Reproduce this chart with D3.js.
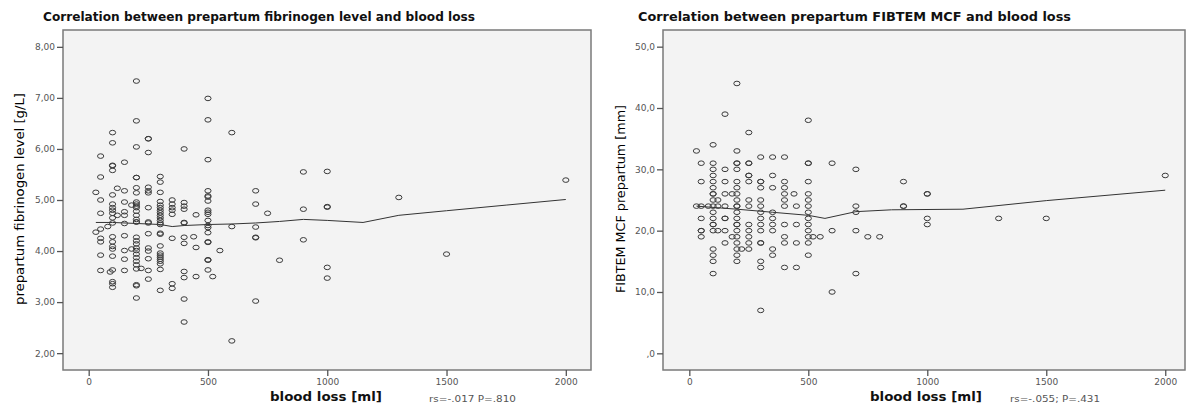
<!DOCTYPE html>
<html>
<head>
<meta charset="utf-8">
<script src="https://cdn.jsdelivr.net/npm/d3@7"></script>
<style>
  body { margin: 0; background: #fff; }
  svg { display: block; }
  .tick text { font-family: "DejaVu Sans", sans-serif; font-size: 9px; fill: #555; }
</style>
</head>
<body>
<div id="chart"></div>
<script>

// left panel : blood loss columns and fibrinogen values
var fibLoss = [30, 50, 80, 90, 100, 120, 150, 180, 200, 220, 250, 300, 350, 400, 440, 450, 500, 520, 550, 600, 700, 750, 800, 900, 1000, 1300, 1500, 2000];
var fibValues = [
  [5.15, 4.37],
  [5.86, 5.45, 5.0, 4.74, 4.43, 4.25, 4.18, 3.92, 3.62],
  [4.48],
  [3.59],
  [6.32, 6.12, 5.68, 5.67, 5.58, 5.10, 4.92, 4.85, 4.80, 4.74, 4.65, 4.55, 4.28, 4.18, 4.09, 4.04, 3.90, 3.63, 3.40, 3.36, 3.29],
  [5.23, 4.70],
  [5.74, 5.18, 4.96, 4.77, 4.70, 4.54, 4.30, 4.01, 3.84, 3.62],
  [4.90, 4.04],
  [7.33, 6.55, 6.04, 5.44, 5.44, 5.24, 5.14, 4.96, 4.92, 4.88, 4.85, 4.78, 4.70, 4.62, 4.57, 4.57, 4.27, 4.20, 4.14, 4.06, 4.01, 3.94, 3.87, 3.80, 3.73, 3.65, 3.34, 3.32, 3.08],
  [3.66],
  [6.20, 6.20, 5.93, 5.25, 5.18, 5.14, 4.85, 4.57, 4.55, 4.34, 4.06, 4.00, 3.85, 3.62, 3.45],
  [5.46, 5.35, 5.15, 4.97, 4.90, 4.85, 4.80, 4.75, 4.70, 4.65, 4.60, 4.55, 4.52, 4.35, 4.33, 4.10, 3.96, 3.92, 3.88, 3.84, 3.80, 3.75, 3.64, 3.23],
  [5.0, 4.92, 4.85, 4.80, 4.72, 4.25, 3.36, 3.27],
  [6.0, 4.95, 4.88, 4.82, 4.56, 4.55, 4.27, 4.15, 3.60, 3.48, 3.06, 2.61],
  [4.28],
  [4.71, 4.07, 3.50],
  [6.99, 6.57, 5.79, 5.18, 5.08, 5.06, 4.98, 4.80, 4.76, 4.72, 4.60, 4.50, 4.46, 4.36, 4.18, 4.17, 3.83, 3.82, 3.63],
  [3.50],
  [4.01],
  [6.32, 4.48, 2.24],
  [5.18, 4.92, 4.47, 4.27, 4.26, 3.02],
  [4.74],
  [3.82],
  [5.55, 4.82, 4.22],
  [5.56, 4.87, 4.86, 3.68, 3.47],
  [5.05],
  [3.94],
  [5.39]
];
var fibLineX = [30, 100, 200, 300, 350, 400, 500, 600, 700, 800, 900, 1000, 1150, 1300, 1500, 1750, 2000];
var fibLineY = [4.56, 4.56, 4.54, 4.52, 4.48, 4.50, 4.52, 4.53, 4.55, 4.58, 4.62, 4.60, 4.56, 4.70, 4.79, 4.90, 5.01];
var fibTicks = [2, 3, 4, 5, 6, 7, 8];

// right panel : FIBTEM MCF
var mcfLoss = [30, 50, 80, 100, 120, 150, 180, 200, 220, 250, 300, 350, 400, 440, 450, 500, 520, 550, 600, 700, 750, 800, 900, 1000, 1300, 1500, 2000];
var mcfValues = [
  [33, 24],
  [31, 28, 24, 22, 20, 20, 19],
  [24],
  [34, 31, 30, 29, 28, 27, 26, 26, 25, 24, 23, 22, 21, 21, 20, 17, 16, 15, 13],
  [25, 24, 20],
  [39, 30, 28, 26, 24, 22, 22, 20, 18],
  [26, 19],
  [44, 33, 31, 31, 30, 28, 27, 26, 25, 24, 24, 23, 22, 21, 21, 20, 19, 18, 17, 16, 15],
  [17],
  [36, 31, 31, 29, 29, 28, 25, 24, 21, 20, 19, 18, 17],
  [32, 28, 28, 27, 25, 24, 23, 22, 21, 20, 18, 18, 15, 14, 7],
  [32, 29, 27, 23, 22, 21, 20, 17, 16],
  [32, 28, 27, 26, 25, 24, 21, 19, 18, 14],
  [26],
  [24, 21, 18, 14],
  [38, 31, 31, 28, 26, 25, 24, 23, 22, 21, 20, 19, 18, 16],
  [19],
  [19],
  [31, 20, 10],
  [30, 24, 23, 20, 13],
  [19],
  [19],
  [28, 24, 24],
  [26, 26, 22, 21],
  [22],
  [22],
  [29]
];
var mcfLineX = [30, 200, 350, 500, 570, 700, 850, 1150, 1500, 2000];
var mcfLineY = [24.0, 23.5, 23.0, 22.5, 22.0, 23.1, 23.4, 23.5, 24.9, 26.6];
var mcfTicks = [0, 10, 20, 30, 40, 50];

var xTicks = [0, 500, 1000, 1500, 2000];

var svg = d3.select("#chart").append("svg")
    .attr("width", 1187)
    .attr("height", 405);

function panel(o) {
  var x = d3.scaleLinear().domain(o.xDomain).range([o.left, o.right]);
  var y = d3.scaleLinear().domain(o.yDomain).range([370, 30]);

  svg.append("rect")
      .attr("x", o.left)
      .attr("y", 30)
      .attr("width", o.right - o.left)
      .attr("height", 340)
      .attr("fill", "#f3f3f3")
      .attr("stroke", "#7a7a7a")
      .attr("stroke-width", 1.5);

  var yAxis = svg.append("g")
      .attr("transform", "translate(" + o.left + ",0)")
      .call(d3.axisLeft(y).tickValues(o.yTicks).tickSize(6).tickPadding(2).tickFormat(o.fmt));
  var xAxis = svg.append("g")
      .attr("transform", "translate(0,370)")
      .call(d3.axisBottom(x).tickValues(xTicks).tickSize(6).tickPadding(3).tickFormat(d3.format("d")));
  [yAxis, xAxis].forEach(function (a) {
    a.select(".domain").remove();
    a.selectAll(".tick line").attr("stroke", "#555").attr("stroke-width", 1.3);
  });

  var pts = [];
  o.loss.forEach(function (l, i) {
    o.values[i].forEach(function (v) { pts.push([l, v]); });
  });

  var line = d3.line()
      .x(function (d) { return x(d[0]); })
      .y(function (d) { return y(d[1]); });
  svg.append("path")
      .datum(d3.zip(o.lineX, o.lineY))
      .attr("d", line)
      .attr("fill", "none")
      .attr("stroke", "#333")
      .attr("stroke-width", 1);

  svg.append("g").selectAll("ellipse")
      .data(pts)
      .enter().append("ellipse")
      .attr("cx", function (d) { return x(d[0]); })
      .attr("cy", function (d) { return y(d[1]); })
      .attr("rx", 3.1)
      .attr("ry", 2.3)
      .attr("fill", "none")
      .attr("stroke", "#3a3a3a")
      .attr("stroke-width", 1);

  svg.append("text")
      .attr("x", o.titleX)
      .attr("y", 21)
      .attr("font-family", "DejaVu Sans, sans-serif")
      .attr("font-weight", "bold")
      .attr("font-size", 12.5)
      .attr("textLength", o.titleW)
      .attr("lengthAdjust", "spacingAndGlyphs")
      .attr("fill", "#111")
      .text(o.title);

  svg.append("text")
      .attr("transform", "translate(" + o.yTitleX + "," + o.yTitleY + ") rotate(-90)")
      .attr("text-anchor", "middle")
      .attr("font-family", "DejaVu Sans, sans-serif")
      .attr("font-size", 13)
      .attr("textLength", o.yTitleW)
      .attr("lengthAdjust", "spacingAndGlyphs")
      .attr("fill", "#000")
      .text(o.yTitle);

  svg.append("text")
      .attr("x", o.xTitleX)
      .attr("y", 401)
      .attr("text-anchor", "middle")
      .attr("font-family", "DejaVu Sans, sans-serif")
      .attr("font-weight", "bold")
      .attr("font-size", 13)
      .attr("textLength", 112)
      .attr("lengthAdjust", "spacingAndGlyphs")
      .attr("fill", "#111")
      .text("blood loss [ml]");

  svg.append("text")
      .attr("x", o.statX)
      .attr("y", 402)
      .attr("font-family", "DejaVu Sans, sans-serif")
      .attr("font-size", 9.5)
      .attr("textLength", o.statW)
      .attr("lengthAdjust", "spacingAndGlyphs")
      .attr("fill", "#555")
      .text(o.stat);
}

panel({
  left: 63, right: 591,
  xDomain: [-107.7, 2105.6], yDomain: [1.67, 8.33],
  yTicks: fibTicks, fmt: function (d) { return d3.format(".2f")(d).replace(".", ","); },
  loss: fibLoss, values: fibValues, lineX: fibLineX, lineY: fibLineY,
  title: "Correlation between prepartum fibrinogen level and blood loss", titleX: 43, titleW: 432,
  yTitle: "prepartum fibrinogen level [g/L]", yTitleX: 24, yTitleY: 199, yTitleW: 212,
  xTitleX: 326,
  stat: "rs=-.017 P=.810", statX: 429, statW: 87
});

panel({
  left: 663, right: 1185,
  xDomain: [-110.6, 2083], yDomain: [-2.72, 52.72],
  yTicks: mcfTicks, fmt: function (d) { return d === 0 ? ",0" : d3.format(".1f")(d).replace(".", ","); },
  loss: mcfLoss, values: mcfValues, lineX: mcfLineX, lineY: mcfLineY,
  title: "Correlation between prepartum FIBTEM MCF and blood loss", titleX: 638, titleW: 433,
  yTitle: "FIBTEM MCF prepartum [mm]", yTitleX: 625, yTitleY: 199, yTitleW: 188,
  xTitleX: 926,
  stat: "rs=-.055; P=.431", statX: 1010, statW: 90
});

</script>
</body>
</html>
